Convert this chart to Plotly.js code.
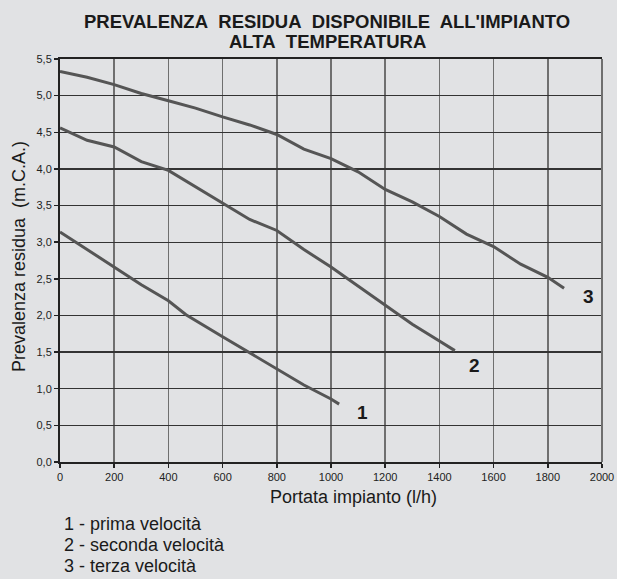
<!DOCTYPE html>
<html>
<head>
<meta charset="utf-8">
<script src="https://cdn.plot.ly/plotly-3.0.1.min.js"></script>
<style>
  html, body { margin: 0; padding: 0; background: #e1e2e4; }
  #chart { width: 617px; height: 579px; }
</style>
</head>
<body>
<div id="chart"></div>
<script>
// ---- data ----
const curve1X = [0, 100, 200, 300, 400, 465, 600, 700, 800, 900, 1000, 1030];
const curve1Y = [3.14, 2.90, 2.67, 2.42, 2.20, 2.01, 1.71, 1.49, 1.27, 1.05, 0.86, 0.79];

const curve2X = [0, 100, 200, 300, 400, 500, 600, 700, 800, 900, 1000, 1100, 1200, 1300, 1400, 1457];
const curve2Y = [4.56, 4.39, 4.30, 4.10, 3.98, 3.76, 3.53, 3.31, 3.16, 2.90, 2.66, 2.40, 2.15, 1.88, 1.65, 1.52];

const curve3X = [0, 100, 200, 300, 400, 500, 600, 700, 800, 900, 1000, 1100, 1200, 1300, 1400, 1500, 1600, 1700, 1800, 1860];
const curve3Y = [5.33, 5.25, 5.15, 5.03, 4.93, 4.83, 4.71, 4.60, 4.47, 4.27, 4.14, 3.96, 3.72, 3.55, 3.35, 3.11, 2.94, 2.70, 2.52, 2.37];

const curveLabels = ["1", "2", "3"];
const curveLabelX = [1116, 1528, 1952];
const curveLabelY = [0.68, 1.32, 2.26];

const xTickVals = [0, 200, 400, 600, 800, 1000, 1200, 1400, 1600, 1800, 2000];
const xTickText = ["0", "200", "400", "600", "800", "1000", "1200", "1400", "1600", "1800", "2000"];
const yTickVals = [0, 0.5, 1, 1.5, 2, 2.5, 3, 3.5, 4, 4.5, 5, 5.5];
const yTickText = ["0,0", "0,5", "1,0", "1,5", "2,0", "2,5", "3,0", "3,5", "4,0", "4,5", "5,0", "5,5"];

const legendLines = ["1 - prima velocità", "2 - seconda velocità", "3 - terza velocità"];

const titleLines = ["PREVALENZA&nbsp; RESIDUA&nbsp; DISPONIBILE&nbsp; ALL'IMPIANTO", "ALTA&nbsp; TEMPERATURA"];
const xTitle = "Portata impianto (l/h)";
const yTitle = "Prevalenza residua  (m.C.A.)";

// ---- chart ----
const FONT = "Liberation Sans, Arial, Helvetica, sans-serif";
const BG = "#e1e2e4";
const lineStyle = { color: "#555555", width: 3 };

const traces = [
  { x: curve1X, y: curve1Y, mode: "lines", line: lineStyle, hoverinfo: "skip" },
  { x: curve2X, y: curve2Y, mode: "lines", line: lineStyle, hoverinfo: "skip" },
  { x: curve3X, y: curve3Y, mode: "lines", line: lineStyle, hoverinfo: "skip" }
];

const L = 60, R = 15, T = 59, B = 117, W = 617, H = 579;
const pw = W - L - R, ph = H - T - B;
const px = v => (v - L) / pw;
const py = v => (H - B - v) / ph;

const annotations = [];
curveLabels.forEach((t, i) => {
  annotations.push({
    x: curveLabelX[i], y: curveLabelY[i], xref: "x", yref: "y",
    text: t, showarrow: false,
    font: { family: FONT, size: 19, color: "#1a1a1a", weight: "bold" }
  });
});
legendLines.forEach((t, i) => {
  annotations.push({
    x: px(62), y: py(524 + i * 21), xref: "paper", yref: "paper",
    text: t, showarrow: false, xanchor: "left", yanchor: "middle",
    font: { family: FONT, size: 18, color: "#1a1a1a" }
  });
});
annotations.push({
  x: px(353), y: py(497), xref: "paper", yref: "paper",
  text: xTitle, showarrow: false, xanchor: "center", yanchor: "middle",
  font: { family: FONT, size: 18, color: "#1a1a1a" }
});
annotations.push({
  x: px(19), y: py(257), xref: "paper", yref: "paper",
  text: yTitle, showarrow: false, textangle: -90, xanchor: "center", yanchor: "middle",
  font: { family: FONT, size: 18, color: "#1a1a1a" }
});
titleLines.forEach((t, i) => {
  annotations.push({
    x: px(327), y: py(22 + i * 20), xref: "paper", yref: "paper",
    text: t, showarrow: false, xanchor: "center", yanchor: "middle",
    font: { family: FONT, size: 18.5, color: "#1a1a1a", weight: "bold" }
  });
});

const layout = {
  width: W, height: H,
  paper_bgcolor: BG, plot_bgcolor: BG,
  margin: { l: L, r: R, t: T, b: B, pad: 0 },
  showlegend: false,
  xaxis: {
    range: [0, 2000], fixedrange: true,
    tickvals: xTickVals, ticktext: xTickText,
    tickfont: { family: FONT, size: 11, color: "#222" },
    ticks: "outside", ticklen: 4, tickcolor: "#222", tickwidth: 1.5,
    showgrid: true, gridcolor: "#6f6f6f", gridwidth: 1.5,
    showline: true, linecolor: "#222", linewidth: 2, mirror: true,
    zeroline: false
  },
  yaxis: {
    range: [0, 5.5], fixedrange: true,
    tickvals: yTickVals, ticktext: yTickText,
    tickfont: { family: FONT, size: 11, color: "#222" },
    ticks: "outside", ticklen: 4, tickcolor: "#222", tickwidth: 1.5,
    showgrid: true, gridcolor: "#333333", gridwidth: 1.3,
    showline: true, linecolor: "#222", linewidth: 2,
    zeroline: false
  },
  shapes: [
    { type: "line", xref: "paper", yref: "paper", x0: 1, x1: 1, y0: 0, y1: 1,
      line: { color: "#6f6f6f", width: 2 } }
  ],
  annotations: annotations
};

Plotly.newPlot("chart", traces, layout, { displayModeBar: false, staticPlot: true });
</script>
</body>
</html>
